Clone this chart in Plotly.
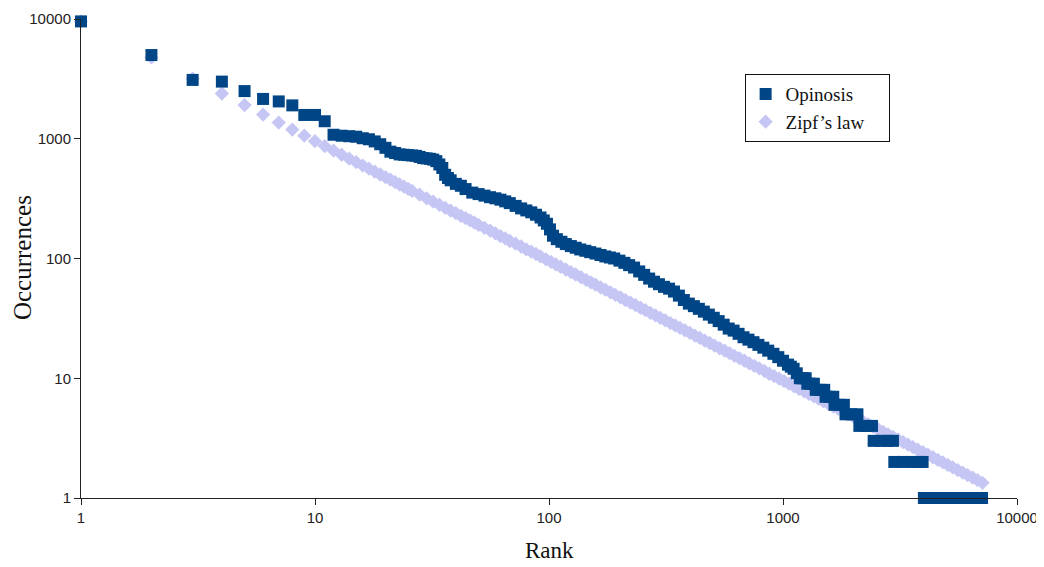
import plotly.graph_objects as go

# ---- Opinosis rank / occurrence data ----
opinosis_rank = [
    1, 2, 3, 4, 5, 6, 7, 8, 9, 10, 11, 12, 13, 14, 15, 16, 17, 18, 19, 20,
    21, 22, 23, 24, 25, 26, 27, 28, 29, 30, 31, 32, 33, 34, 35, 36, 37, 38,
    40, 42, 44, 47, 50, 53, 56, 59, 62, 65, 68, 72, 76, 80, 84, 88, 92, 95,
    98, 101, 104, 108, 113, 118, 124, 130, 136, 143, 150, 158, 166, 174, 182,
    190, 200, 210, 220, 231, 243, 255, 268, 281, 295, 310, 326, 342, 359, 377,
    396, 416, 437, 459, 482, 506, 531, 558, 586, 615, 646, 678, 712, 748, 785,
    824, 865, 910, 955, 1000, 1050, 1080, 1110, 1145,
    1180, 1215, 1250,
    1270, 1310, 1355,
    1380, 1440, 1500,
    1520, 1580, 1640,
    1660, 1740, 1820,
    1850, 1960, 2080,
    2120, 2260, 2400,
    2440, 2620, 2800, 2950,
    2990, 3250, 3540, 3800, 3950,
    4000, 4380, 4700, 5050, 5420, 5820, 6250, 6700, 7090,
]
opinosis_count = [
    9550, 5000, 3100, 3000, 2500, 2150, 2050, 1900, 1580, 1580, 1400, 1080,
    1060, 1050, 1040, 1010, 990, 950, 900, 840, 780, 760, 740, 735, 730, 725,
    720, 705, 690, 685, 680, 670, 650, 610, 570, 500, 470, 450,
    420, 405, 380, 355, 345, 335, 325, 318, 310, 300, 290, 275, 262, 252, 243,
    232, 220, 208, 195, 175, 155, 145, 138, 132, 127, 123, 119, 116, 113, 110,
    107, 104, 102,
    100, 96, 92, 88, 84, 78, 73, 68, 64, 61, 58, 56, 53, 49, 45,
    42, 40, 38, 36, 34, 32, 30, 28, 26, 25, 23.5, 22, 21, 20, 19,
    18, 17, 16, 15, 14, 13, 12.5, 12, 11,
    10, 10, 10,
    9, 9, 9,
    8, 8, 8,
    7, 7, 7,
    6, 6, 6,
    5, 5, 5,
    4, 4, 4,
    3, 3, 3, 3,
    2, 2, 2, 2, 2,
    1, 1, 1, 1, 1, 1, 1, 1, 1,
]

# ---- Zipf's law reference points ----
zipf_rank = [
    1, 2, 3, 4, 5, 6, 7, 8, 9, 10, 11, 12, 13, 14, 15, 16, 17, 18, 19, 20,
    21, 22, 23, 24, 25, 26, 28, 30, 32, 34, 36, 38, 40, 42, 44, 46, 48, 50,
    53, 56, 59, 62, 65, 68, 72, 76, 80, 84, 88, 92, 97, 102, 107, 112, 118,
    124, 130, 137, 144, 151, 158, 166, 174, 183, 192, 202, 212, 223, 234, 246,
    258, 271, 285, 299, 314, 330, 346, 363, 381, 400, 420, 441, 463, 486, 510,
    536, 563, 591, 620, 651, 684, 718, 754, 792, 832, 873, 917, 963, 1010,
    1060, 1115, 1170, 1230, 1290, 1355, 1420, 1490, 1565, 1645, 1725, 1810,
    1900, 2000, 2100, 2200, 2310, 2430, 2550, 2680, 2810, 2950, 3100, 3260,
    3420, 3590, 3770, 3960, 4160, 4370, 4590, 4820, 5060, 5310, 5580, 5860,
    6150, 6460, 6780, 7120,
]
zipf_count = [
    9550, 4775, 3183, 2388, 1910, 1592, 1364, 1194, 1061, 955, 868, 796, 735,
    682, 637, 597, 562, 531, 503, 478,
    455, 434, 415, 398, 382, 367, 341, 318, 298, 281, 265, 251, 239, 227, 217,
    208, 199, 191, 180, 171, 162, 154, 147, 140, 133, 126, 119, 114, 109, 104,
    98.5, 93.6, 89.3, 85.3, 80.9, 77.0, 73.5, 69.7, 66.3, 63.2, 60.4, 57.5,
    54.9, 52.2, 49.7, 47.3, 45.0, 42.8, 40.8, 38.8, 37.0, 35.2, 33.5, 31.9,
    30.4, 28.9, 27.6, 26.3, 25.1, 23.9, 22.7, 21.7, 20.6, 19.7, 18.7, 17.8,
    17.0, 16.2, 15.4, 14.7, 14.0, 13.3, 12.7, 12.1, 11.5, 10.9, 10.4, 9.92,
    9.46, 9.01, 8.56, 8.16, 7.76, 7.40, 7.05, 6.73, 6.41, 6.10, 5.81, 5.54,
    5.28, 5.03, 4.78, 4.55, 4.34, 4.13, 3.93, 3.75, 3.56, 3.40, 3.24, 3.08,
    2.93, 2.79, 2.66, 2.53, 2.41, 2.30, 2.19, 2.08, 1.98, 1.89, 1.80, 1.71,
    1.63, 1.55, 1.48, 1.41, 1.34,
]

tick_vals = [1, 10, 100, 1000, 10000]
tick_text = ["1", "10", "100", "1000", "10000"]

OPI_COLOR = "#004586"
ZIPF_COLOR = "#c6c6f5"

fig = go.Figure()
fig.add_trace(go.Scatter(
    x=zipf_rank, y=zipf_count, mode="markers",
    name="Zipf’s law\u00a0\u00a0\u00a0\u00a0",
    marker=dict(symbol="diamond", size=11, color=ZIPF_COLOR, line=dict(width=0)),
    cliponaxis=False, legendrank=2,
))
fig.add_trace(go.Scatter(
    x=opinosis_rank, y=opinosis_count, mode="markers", name="Opinosis",
    marker=dict(symbol="square", size=12, color=OPI_COLOR, line=dict(width=0)),
    cliponaxis=False, legendrank=1,
))

axis_common = dict(
    type="log", range=[0, 4], tickvals=tick_vals, ticktext=tick_text,
    showgrid=False, zeroline=False, showline=True, linecolor="#222",
    linewidth=1, ticks="outside", ticklen=6, tickcolor="#222",
    automargin=False,
    tickfont=dict(family="Liberation Sans, Arial, sans-serif", size=15, color="#222"),
)

# the page body adds an 8 px offset, so the figure is sized to fit the window
fig.update_layout(
    width=1036, height=559, autosize=False,
    margin=dict(l=73, r=27, t=11, b=69),
    paper_bgcolor="white", plot_bgcolor="white",
    xaxis=axis_common,
    yaxis=axis_common,
    showlegend=True,
    legend=dict(
        x=0.709, y=0.885, xanchor="left", yanchor="top",
        bordercolor="#111", borderwidth=1, bgcolor="white",
        font=dict(family="Liberation Serif, Times New Roman, serif", size=19, color="#111"),
        itemsizing="trace", tracegroupgap=0,
    ),
    annotations=[
        dict(text="Rank", xref="paper", yref="paper", x=0.5, y=-0.1086,
             xanchor="center", yanchor="middle", showarrow=False,
             font=dict(family="Liberation Serif, Times New Roman, serif", size=23, color="#111")),
        dict(text="Occurrences", xref="paper", yref="paper", x=-0.063, y=0.501,
             xanchor="center", yanchor="middle", showarrow=False, textangle=-90,
             font=dict(family="Liberation Serif, Times New Roman, serif", size=25, color="#111")),
    ],
)

fig.write_html("out.html")
